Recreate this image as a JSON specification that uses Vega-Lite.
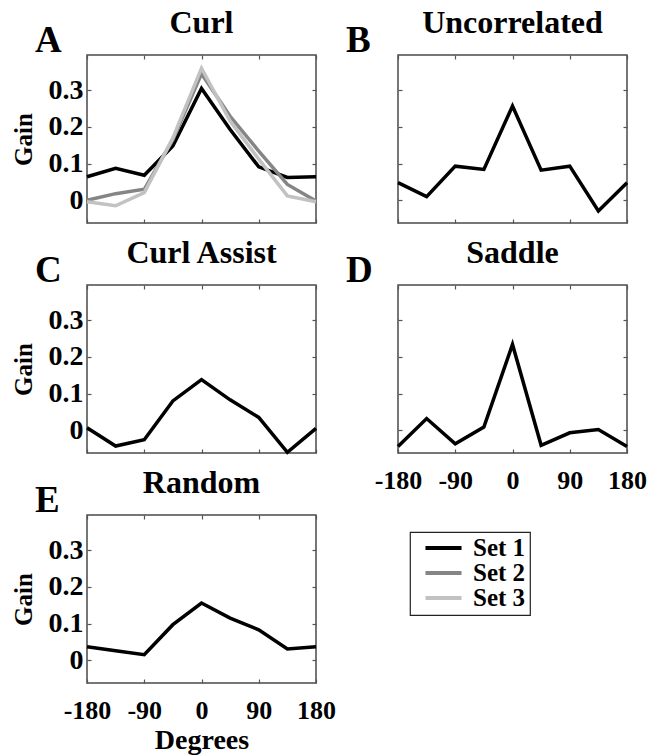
{
  "$schema": "https://vega.github.io/schema/vega-lite/v6.json",
  "padding": {"left": 10, "top": 6, "right": 5, "bottom": 2},
  "background": "white",
  "bounds": "flush",
  "columns": 2,
  "spacing": {"row": 62, "column": 82},
  "datasets": {
    "curves": [
      {"panel": "A", "set": "Set 1", "deg": -180, "gain": 0.064},
      {"panel": "A", "set": "Set 1", "deg": -135, "gain": 0.087},
      {"panel": "A", "set": "Set 1", "deg": -90, "gain": 0.068},
      {"panel": "A", "set": "Set 1", "deg": -45, "gain": 0.148},
      {"panel": "A", "set": "Set 1", "deg": 0, "gain": 0.305},
      {"panel": "A", "set": "Set 1", "deg": 45, "gain": 0.193},
      {"panel": "A", "set": "Set 1", "deg": 90, "gain": 0.091},
      {"panel": "A", "set": "Set 1", "deg": 135, "gain": 0.062},
      {"panel": "A", "set": "Set 1", "deg": 180, "gain": 0.064},
      {"panel": "A", "set": "Set 2", "deg": -180, "gain": 0.0},
      {"panel": "A", "set": "Set 2", "deg": -135, "gain": 0.018},
      {"panel": "A", "set": "Set 2", "deg": -90, "gain": 0.03},
      {"panel": "A", "set": "Set 2", "deg": -45, "gain": 0.165},
      {"panel": "A", "set": "Set 2", "deg": 0, "gain": 0.345},
      {"panel": "A", "set": "Set 2", "deg": 45, "gain": 0.229},
      {"panel": "A", "set": "Set 2", "deg": 90, "gain": 0.134},
      {"panel": "A", "set": "Set 2", "deg": 135, "gain": 0.043},
      {"panel": "A", "set": "Set 2", "deg": 180, "gain": -0.002},
      {"panel": "A", "set": "Set 3", "deg": -180, "gain": -0.004},
      {"panel": "A", "set": "Set 3", "deg": -135, "gain": -0.015},
      {"panel": "A", "set": "Set 3", "deg": -90, "gain": 0.021},
      {"panel": "A", "set": "Set 3", "deg": -45, "gain": 0.17},
      {"panel": "A", "set": "Set 3", "deg": 0, "gain": 0.36},
      {"panel": "A", "set": "Set 3", "deg": 45, "gain": 0.216},
      {"panel": "A", "set": "Set 3", "deg": 90, "gain": 0.112},
      {"panel": "A", "set": "Set 3", "deg": 135, "gain": 0.012},
      {"panel": "A", "set": "Set 3", "deg": 180, "gain": -0.004},
      {"panel": "B", "set": "Set 1", "deg": -180, "gain": 0.048},
      {"panel": "B", "set": "Set 1", "deg": -135, "gain": 0.01},
      {"panel": "B", "set": "Set 1", "deg": -90, "gain": 0.093},
      {"panel": "B", "set": "Set 1", "deg": -45, "gain": 0.084},
      {"panel": "B", "set": "Set 1", "deg": 0, "gain": 0.257},
      {"panel": "B", "set": "Set 1", "deg": 45, "gain": 0.082},
      {"panel": "B", "set": "Set 1", "deg": 90, "gain": 0.093},
      {"panel": "B", "set": "Set 1", "deg": 135, "gain": -0.029},
      {"panel": "B", "set": "Set 1", "deg": 180, "gain": 0.048},
      {"panel": "C", "set": "Set 1", "deg": -180, "gain": 0.007},
      {"panel": "C", "set": "Set 1", "deg": -135, "gain": -0.043},
      {"panel": "C", "set": "Set 1", "deg": -90, "gain": -0.026},
      {"panel": "C", "set": "Set 1", "deg": -45, "gain": 0.08},
      {"panel": "C", "set": "Set 1", "deg": 0, "gain": 0.138},
      {"panel": "C", "set": "Set 1", "deg": 45, "gain": 0.083},
      {"panel": "C", "set": "Set 1", "deg": 90, "gain": 0.035},
      {"panel": "C", "set": "Set 1", "deg": 135, "gain": -0.06},
      {"panel": "C", "set": "Set 1", "deg": 180, "gain": 0.005},
      {"panel": "D", "set": "Set 1", "deg": -180, "gain": -0.044},
      {"panel": "D", "set": "Set 1", "deg": -135, "gain": 0.032},
      {"panel": "D", "set": "Set 1", "deg": -90, "gain": -0.037},
      {"panel": "D", "set": "Set 1", "deg": -45, "gain": 0.009},
      {"panel": "D", "set": "Set 1", "deg": 0, "gain": 0.234},
      {"panel": "D", "set": "Set 1", "deg": 45, "gain": -0.041},
      {"panel": "D", "set": "Set 1", "deg": 90, "gain": -0.007},
      {"panel": "D", "set": "Set 1", "deg": 135, "gain": 0.002},
      {"panel": "D", "set": "Set 1", "deg": 180, "gain": -0.044},
      {"panel": "E", "set": "Set 1", "deg": -180, "gain": 0.037},
      {"panel": "E", "set": "Set 1", "deg": -135, "gain": 0.026},
      {"panel": "E", "set": "Set 1", "deg": -90, "gain": 0.015},
      {"panel": "E", "set": "Set 1", "deg": -45, "gain": 0.097},
      {"panel": "E", "set": "Set 1", "deg": 0, "gain": 0.156},
      {"panel": "E", "set": "Set 1", "deg": 45, "gain": 0.115},
      {"panel": "E", "set": "Set 1", "deg": 90, "gain": 0.083},
      {"panel": "E", "set": "Set 1", "deg": 135, "gain": 0.031},
      {"panel": "E", "set": "Set 1", "deg": 180, "gain": 0.037}
    ],
    "letters": [
      {"panel": "A", "letter": "A"},
      {"panel": "B", "letter": "B"},
      {"panel": "C", "letter": "C"},
      {"panel": "D", "letter": "D"},
      {"panel": "E", "letter": "E"}
    ]
  },
  "concat": [
    {
      "width": 229, "height": 168,
      "title": "Curl",
      "layer": [
        {
          "data": {"name": "curves"},
          "transform": [{"filter": "datum.panel === 'A'"}],
          "mark": {"type": "line", "strokeWidth": 3.5},
          "encoding": {
            "x": {"field": "deg", "type": "quantitative", "scale": {"domain": [-180, 180], "nice": false, "zero": false}, "axis": {"values": [-180, -90, 0, 90, 180], "labels": false, "title": null}},
            "y": {"field": "gain", "type": "quantitative", "scale": {"domain": [-0.062, 0.396], "nice": false, "zero": false}, "axis": {"values": [0, 0.1, 0.2, 0.3], "format": "~g", "title": "Gain"}},
            "color": {"field": "set", "type": "nominal", "scale": {"domain": ["Set 1", "Set 2", "Set 3"], "range": ["#000000", "#858585", "#c2c2c2"]}, "title": null},
            "order": {"field": "deg", "type": "quantitative"}
          }
        },
        {
          "data": {"name": "letters"},
          "transform": [{"filter": "datum.panel === 'A'"}],
          "mark": {"type": "text", "align": "left", "baseline": "alphabetic", "dx": -52, "dy": -3, "font": "Liberation Serif", "fontWeight": "bold", "fontSize": 37, "color": "#000"},
          "encoding": {
            "text": {"field": "letter"},
            "x": {"datum": -180, "type": "quantitative", "axis": {"orient": "top", "values": [-180, -90, 0, 90, 180], "labels": false, "title": null}},
            "y": {"datum": 0.396, "type": "quantitative", "axis": {"orient": "right", "values": [0, 0.1, 0.2, 0.3], "labels": false, "title": null}}
          }
        }
      ],
      "resolve": {"axis": {"x": "independent", "y": "independent"}}
    },
    {
      "width": 229, "height": 168,
      "title": "Uncorrelated",
      "layer": [
        {
          "data": {"name": "curves"},
          "transform": [{"filter": "datum.panel === 'B'"}],
          "mark": {"type": "line", "strokeWidth": 3.5},
          "encoding": {
            "x": {"field": "deg", "type": "quantitative", "scale": {"domain": [-180, 180], "nice": false, "zero": false}, "axis": {"values": [-180, -90, 0, 90, 180], "labels": false, "title": null}},
            "y": {"field": "gain", "type": "quantitative", "scale": {"domain": [-0.062, 0.396], "nice": false, "zero": false}, "axis": {"values": [0, 0.1, 0.2, 0.3], "labels": false, "title": null}},
            "color": {"field": "set", "type": "nominal", "scale": {"domain": ["Set 1", "Set 2", "Set 3"], "range": ["#000000", "#858585", "#c2c2c2"]}, "title": null},
            "order": {"field": "deg", "type": "quantitative"}
          }
        },
        {
          "data": {"name": "letters"},
          "transform": [{"filter": "datum.panel === 'B'"}],
          "mark": {"type": "text", "align": "left", "baseline": "alphabetic", "dx": -52, "dy": -3, "font": "Liberation Serif", "fontWeight": "bold", "fontSize": 37, "color": "#000"},
          "encoding": {
            "text": {"field": "letter"},
            "x": {"datum": -180, "type": "quantitative", "axis": {"orient": "top", "values": [-180, -90, 0, 90, 180], "labels": false, "title": null}},
            "y": {"datum": 0.396, "type": "quantitative", "axis": {"orient": "right", "values": [0, 0.1, 0.2, 0.3], "labels": false, "title": null}}
          }
        }
      ],
      "resolve": {"axis": {"x": "independent", "y": "independent"}}
    },
    {
      "width": 229, "height": 168,
      "title": "Curl Assist",
      "layer": [
        {
          "data": {"name": "curves"},
          "transform": [{"filter": "datum.panel === 'C'"}],
          "mark": {"type": "line", "strokeWidth": 3.5},
          "encoding": {
            "x": {"field": "deg", "type": "quantitative", "scale": {"domain": [-180, 180], "nice": false, "zero": false}, "axis": {"values": [-180, -90, 0, 90, 180], "labels": false, "title": null}},
            "y": {"field": "gain", "type": "quantitative", "scale": {"domain": [-0.062, 0.396], "nice": false, "zero": false}, "axis": {"values": [0, 0.1, 0.2, 0.3], "format": "~g", "title": "Gain"}},
            "color": {"field": "set", "type": "nominal", "scale": {"domain": ["Set 1", "Set 2", "Set 3"], "range": ["#000000", "#858585", "#c2c2c2"]}, "title": null},
            "order": {"field": "deg", "type": "quantitative"}
          }
        },
        {
          "data": {"name": "letters"},
          "transform": [{"filter": "datum.panel === 'C'"}],
          "mark": {"type": "text", "align": "left", "baseline": "alphabetic", "dx": -52, "dy": -3, "font": "Liberation Serif", "fontWeight": "bold", "fontSize": 37, "color": "#000"},
          "encoding": {
            "text": {"field": "letter"},
            "x": {"datum": -180, "type": "quantitative", "axis": {"orient": "top", "values": [-180, -90, 0, 90, 180], "labels": false, "title": null}},
            "y": {"datum": 0.396, "type": "quantitative", "axis": {"orient": "right", "values": [0, 0.1, 0.2, 0.3], "labels": false, "title": null}}
          }
        }
      ],
      "resolve": {"axis": {"x": "independent", "y": "independent"}}
    },
    {
      "width": 229, "height": 168,
      "title": "Saddle",
      "layer": [
        {
          "data": {"name": "curves"},
          "transform": [{"filter": "datum.panel === 'D'"}],
          "mark": {"type": "line", "strokeWidth": 3.5},
          "encoding": {
            "x": {"field": "deg", "type": "quantitative", "scale": {"domain": [-180, 180], "nice": false, "zero": false}, "axis": {"values": [-180, -90, 0, 90, 180], "labelExpr": "toString(datum.value)", "labelFlush": false, "labelAlign": "center", "title": null}},
            "y": {"field": "gain", "type": "quantitative", "scale": {"domain": [-0.062, 0.396], "nice": false, "zero": false}, "axis": {"values": [0, 0.1, 0.2, 0.3], "labels": false, "title": null}},
            "color": {"field": "set", "type": "nominal", "scale": {"domain": ["Set 1", "Set 2", "Set 3"], "range": ["#000000", "#858585", "#c2c2c2"]}, "title": null},
            "order": {"field": "deg", "type": "quantitative"}
          }
        },
        {
          "data": {"name": "letters"},
          "transform": [{"filter": "datum.panel === 'D'"}],
          "mark": {"type": "text", "align": "left", "baseline": "alphabetic", "dx": -52, "dy": -3, "font": "Liberation Serif", "fontWeight": "bold", "fontSize": 37, "color": "#000"},
          "encoding": {
            "text": {"field": "letter"},
            "x": {"datum": -180, "type": "quantitative", "axis": {"orient": "top", "values": [-180, -90, 0, 90, 180], "labels": false, "title": null}},
            "y": {"datum": 0.396, "type": "quantitative", "axis": {"orient": "right", "values": [0, 0.1, 0.2, 0.3], "labels": false, "title": null}}
          }
        }
      ],
      "resolve": {"axis": {"x": "independent", "y": "independent"}}
    },
    {
      "width": 229, "height": 168,
      "title": "Random",
      "layer": [
        {
          "data": {"name": "curves"},
          "transform": [{"filter": "datum.panel === 'E'"}],
          "mark": {"type": "line", "strokeWidth": 3.5},
          "encoding": {
            "x": {"field": "deg", "type": "quantitative", "scale": {"domain": [-180, 180], "nice": false, "zero": false}, "axis": {"values": [-180, -90, 0, 90, 180], "labelExpr": "toString(datum.value)", "labelFlush": false, "labelAlign": "center", "title": "Degrees"}},
            "y": {"field": "gain", "type": "quantitative", "scale": {"domain": [-0.062, 0.396], "nice": false, "zero": false}, "axis": {"values": [0, 0.1, 0.2, 0.3], "format": "~g", "title": "Gain"}},
            "color": {"field": "set", "type": "nominal", "scale": {"domain": ["Set 1", "Set 2", "Set 3"], "range": ["#000000", "#858585", "#c2c2c2"]}, "title": null},
            "order": {"field": "deg", "type": "quantitative"}
          }
        },
        {
          "data": {"name": "letters"},
          "transform": [{"filter": "datum.panel === 'E'"}],
          "mark": {"type": "text", "align": "left", "baseline": "alphabetic", "dx": -52, "dy": -3, "font": "Liberation Serif", "fontWeight": "bold", "fontSize": 37, "color": "#000"},
          "encoding": {
            "text": {"field": "letter"},
            "x": {"datum": -180, "type": "quantitative", "axis": {"orient": "top", "values": [-180, -90, 0, 90, 180], "labels": false, "title": null}},
            "y": {"datum": 0.396, "type": "quantitative", "axis": {"orient": "right", "values": [0, 0.1, 0.2, 0.3], "labels": false, "title": null}}
          }
        }
      ],
      "resolve": {"axis": {"x": "independent", "y": "independent"}}
    }
  ],
  "config": {
    "font": "Liberation Serif",
    "view": {"stroke": "#4a4a4a", "strokeWidth": 1.5},
    "axis": {
      "grid": false,
      "domain": false,
      "tickSize": -4,
      "tickColor": "#555555",
      "tickWidth": 1.2,
      "labelFont": "Liberation Serif",
      "labelFontWeight": "bold",
      "labelColor": "#000000",
      "titleFont": "Liberation Serif",
      "titleFontWeight": "bold",
      "titleColor": "#000000"
    },
    "axisX": {"labelFlush": false, "labelFontSize": 26, "labelPadding": 18, "titleFontSize": 28, "titlePadding": 3},
    "axisY": {"labelFontSize": 28, "labelPadding": 8, "titleFontSize": 25, "titlePadding": 12},
    "title": {"font": "Liberation Serif", "fontSize": 32, "fontWeight": "bold", "color": "#000000", "baseline": "alphabetic", "offset": -18, "anchor": "middle", "frame": "group"},
    "legend": {
      "orient": "none",
      "legendX": 323,
      "legendY": 477,
      "strokeColor": "#222222",
      "strokeWidth": 1.2,
      "padding": 4,
      "symbolType": "stroke",
      "symbolSize": 1300,
      "symbolStrokeWidth": 4,
      "symbolOffset": 9,
      "clipHeight": 24,
      "rowPadding": 0,
      "labelFont": "Liberation Serif",
      "labelFontWeight": "bold",
      "labelFontSize": 25,
      "labelColor": "#000000",
      "labelOffset": 9
    }
  }
}
